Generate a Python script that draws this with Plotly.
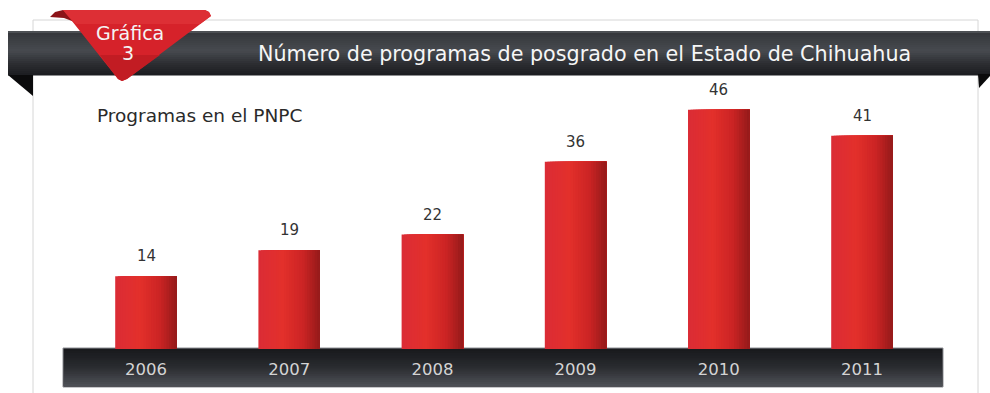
import plotly.graph_objects as go

# ---------------- data ----------------
years = ["2006", "2007", "2008", "2009", "2010", "2011"]
programas = [14, 19, 22, 36, 46, 41]
title_text = "Número de programas de posgrado en el Estado de Chihuahua"
subtitle_text = "Programas en el PNPC"
badge_label = "Gráfica"
badge_number = "3"

# ---------------- helpers ----------------
W, H = 990, 393
FONT = "DejaVu Sans"


def X(p):
    return p / W


def Y(p):
    return 1 - p / H


def hex2rgb(h):
    h = h.lstrip("#")
    return tuple(int(h[i:i + 2], 16) for i in (0, 2, 4))


def lerp(stops, t):
    for i in range(len(stops) - 1):
        t0, c0 = stops[i]
        t1, c1 = stops[i + 1]
        if t0 <= t <= t1:
            f = 0 if t1 == t0 else (t - t0) / (t1 - t0)
            a, b = hex2rgb(c0), hex2rgb(c1)
            r = [round(a[k] + (b[k] - a[k]) * f) for k in range(3)]
            return "rgb(%d,%d,%d)" % tuple(r)
    return stops[-1][1]


def poly(points):
    s = "M " + " L ".join("%.5f,%.5f" % (X(x), Y(y)) for x, y in points) + " Z"
    return s


def rect(x0, y0, x1, y1, color, line=None, layer="below"):
    d = dict(type="rect", xref="paper", yref="paper",
             x0=X(x0), x1=X(x1), y0=Y(y1), y1=Y(y0),
             fillcolor=color, layer=layer,
             line=dict(width=0) if line is None else line)
    return d


shapes = []

# white panel frame
shapes.append(dict(type="rect", xref="paper", yref="paper",
                   x0=X(33), x1=X(978), y0=Y(400), y1=Y(20),
                   fillcolor="white", line=dict(color="#d6d6d6", width=1),
                   layer="below"))

# header band (vertical gradient via stripes)
hdr_stops = [(0.0, "#5b5e63"), (0.06, "#36383c"), (0.45, "#474a4f"),
             (0.75, "#2c2d31"), (1.0, "#1c1d20")]
hy0, hy1 = 31, 75
n = 22
step = (hy1 - hy0) / n
for i in range(n):
    shapes.append(rect(8, hy0 + i * step, 990, hy0 + (i + 1) * step + 0.6,
                       lerp(hdr_stops, (i + 0.5) / n)))

# folds of header band
shapes.append(dict(type="path", xref="paper", yref="paper",
                   path=poly([(8, 75), (33, 75), (33, 96)]),
                   fillcolor="#0b0b0c", line=dict(width=0), layer="below"))
shapes.append(dict(type="path", xref="paper", yref="paper",
                   path=poly([(978, 74), (990, 74), (990, 76), (979, 88)]),
                   fillcolor="#0b0b0c", line=dict(width=0), layer="below"))

# red ribbon badge
shapes.append(dict(type="path", xref="paper", yref="paper",
                   path=poly([(50, 17), (55, 12), (63, 10), (76, 13), (80, 24), (64, 18)]),
                   fillcolor="#8c1418", line=dict(width=0), layer="below"))
shapes.append(dict(type="path", xref="paper", yref="paper",
                   path=poly([(63, 10), (205, 10), (209, 12), (211, 16),
                              (127, 79), (122, 81), (118, 79), (68, 16)]),
                   fillcolor="#d6222a", line=dict(width=0), layer="below"))
shapes.append(dict(type="path", xref="paper", yref="paper",
                   path=poly([(63, 10), (205, 10), (209, 12), (211, 16),
                              (200, 24), (76, 24), (68, 16)]),
                   fillcolor="#dd2f35", line=dict(width=0), layer="below"))
shapes.append(dict(type="path", xref="paper", yref="paper",
                   path=poly([(160, 55), (127, 79), (122, 81), (118, 79), (100, 55)]),
                   fillcolor="#c21c23", line=dict(width=0), layer="below"))

# bottom axis band
bx0, bx1, by0, by1 = 63, 943, 348, 387
shapes.append(dict(type="rect", xref="paper", yref="paper",
                   x0=X(bx0), x1=X(bx1), y0=Y(by1), y1=Y(by0),
                   fillcolor="#1a1b1e", line=dict(color="#8e9095", width=1),
                   layer="below"))
band_stops = [(0.0, "#18191c"), (0.5, "#2a2c30"), (1.0, "#4e5157")]
m = 18
bstep = (by1 - by0 - 2) / m
for i in range(m):
    shapes.append(rect(bx0 + 1, by0 + 1 + i * bstep, bx1 - 1,
                       by0 + 1 + (i + 1) * bstep + 0.6,
                       lerp(band_stops, (i + 0.5) / m)))

# ---------------- bars (horizontal gradient via overlapping strips) ----------------
bar_w = 0.43
bar_stops = [(0.0, "#db2c36"), (0.4, "#e3302b"), (0.72, "#cc2424"), (1.0, "#941a1a")]
k = 24
sw = bar_w / k
fig = go.Figure()
for i in range(k):
    fig.add_trace(go.Bar(
        x=years, y=programas,
        width=[bar_w - i * sw] * len(years),
        offset=[-bar_w / 2 + i * sw] * len(years),
        marker=dict(color=lerp(bar_stops, (i + 0.5) / k), line=dict(width=0)),
        hoverinfo="skip" if i else "x+y",
    ))

annotations = []
for idx, v in enumerate(programas):
    annotations.append(dict(x=idx, y=v, xref="x", yref="y", text=str(v),
                            showarrow=False, yshift=20, yanchor="middle",
                            xanchor="center",
                            font=dict(family=FONT, size=15, color="#333333")))

annotations += [
    dict(x=X(584), y=Y(54), xref="paper", yref="paper", text=title_text,
         showarrow=False, xanchor="center", yanchor="middle",
         font=dict(family=FONT, size=20.7, color="#f6f6f6")),
    dict(x=X(130), y=Y(33), xref="paper", yref="paper", text=badge_label,
         showarrow=False, xanchor="center", yanchor="middle",
         font=dict(family=FONT, size=19, color="#f4f4f4")),
    dict(x=X(128), y=Y(53), xref="paper", yref="paper", text=badge_number,
         showarrow=False, xanchor="center", yanchor="middle",
         font=dict(family=FONT, size=19, color="#f4f4f4")),
    dict(x=X(95), y=Y(115), xref="paper", yref="paper", text=subtitle_text,
         showarrow=False, xanchor="left", yanchor="middle",
         font=dict(family=FONT, size=18.5, color="#2a2a2a")),
]

px_per_unit = 5.2
top_px = 60
fig.update_layout(
    width=W, height=H, autosize=False,
    margin=dict(l=0, r=0, t=0, b=0),
    paper_bgcolor="white", plot_bgcolor="rgba(0,0,0,0)",
    barmode="overlay", showlegend=False,
    shapes=shapes, annotations=annotations,
    xaxis=dict(type="category", domain=[74.4 / W, 933.6 / W], range=[-0.5, 5.5],
               showgrid=False, zeroline=False, showline=False, ticks="",
               tickfont=dict(family=FONT, size=16.5, color="#d4d4d4"),
               ticklabelstandoff=8, fixedrange=True),
    yaxis=dict(domain=[Y(349), Y(top_px)], range=[0, (349 - top_px) / px_per_unit],
               visible=False, fixedrange=True),
)

fig.write_html("out.html")
